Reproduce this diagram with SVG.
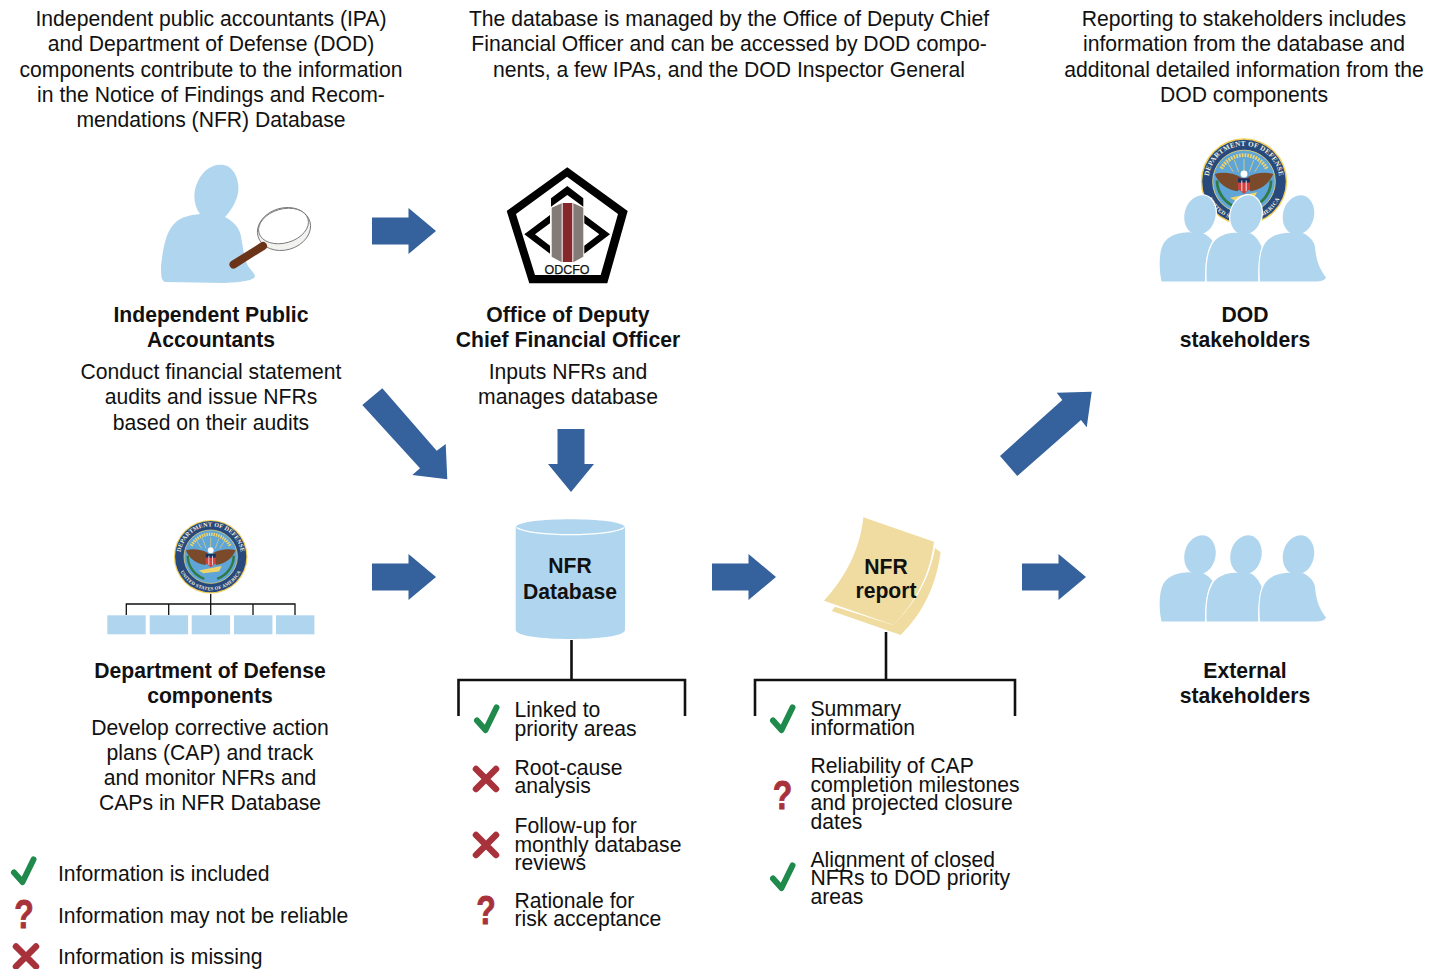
<svg xmlns="http://www.w3.org/2000/svg" width="1440" height="969" viewBox="0 0 1440 969">
<style>
text{font-family:"Liberation Sans",Arial,sans-serif;font-size:21.15px;fill:#111}
.c{text-anchor:middle}
.b{font-weight:700}
.blue{fill:#b0d6ef}
.arrow{fill:#35619d}
.line{fill:none;stroke:#111;stroke-width:2.6}
.chk{fill:none;stroke:#1f8a4c;stroke-width:6;stroke-linecap:round;stroke-linejoin:round}
.x{fill:none;stroke:#a8323c;stroke-width:6.5;stroke-linecap:round}
.q{font-size:41px;font-weight:700;fill:#a8323c;text-anchor:middle;stroke:#a8323c;stroke-width:.9}
.paper{fill:#f0dca0}
.st{font:700 6.6px "Liberation Serif",serif;fill:#f4f0dc;letter-spacing:.25px}
.halo{stroke:#fff;stroke-width:2.4}
</style>
<defs>
<g id="right"><path class="arrow" d="M0 -13.5H36.5V-23L64 0L36.5 23V13.5H0Z"/></g>
<polyline id="chk" class="chk" points="-9.5,-1 -1,8.5 10,-14"/>
<path id="xx" class="x" d="M-10 -10L10 10M10 -10L-10 10"/>
<path id="arcT" d="M-33 0A33 33 0 0 1 33 0"/>
<path id="arcB" d="M-36.500 0A36.500 36.500 0 0 0 36.500 0"/>
<g id="seal">
<circle r="40" fill="#f1cf5a"/>
<circle r="38.700" fill="#28497c"/>
<circle r="29" fill="#5fa5d8" stroke="#e9d67a" stroke-width=".8"/>
<text class="st c"><textPath href="#arcT" startOffset="50%">DEPARTMENT OF DEFENSE</textPath></text>
<text class="st c" style="font-size:5.2px"><textPath href="#arcB" startOffset="50%">UNITED STATES OF AMERICA</textPath></text>
<path d="M-21 -12A24 24 0 0 1 21 -12" fill="none" stroke="#f0d468" stroke-width="3.500" stroke-dasharray="1.600 1"/>
<path d="M0 -9V-21M-5 -9L-9 -20M5 -9L9 -20M-10 -9L-15 -17M10 -9L15 -17" stroke="#f0d468" stroke-width=".7" fill="none"/>
<path d="M-3 -4C-10 -8 -20 -9 -27 -7C-24 1 -16 8 -6 9L-3 5ZM3 -4C10 -8 20 -9 27 -7C24 1 16 8 6 9L3 5Z" fill="#7a4a2a"/>
<circle cy="-7" r="3.200" fill="#fff"/>
<path d="M-5.500 -3H5.500V7L0 11.500L-5.500 7Z" fill="#d04040"/>
<path d="M-5.500 -3H5.500V1H-5.500Z" fill="#16325f"/>
<path d="M-2 -1V9M2 -1V9" stroke="#fff" stroke-width=".8"/>
<path d="M-13 15L12 10L9 16L-8 18Z" fill="#f0d468"/>
<path d="M-25 -1C-25 10 -18 20 -7 24M25 -1C25 10 18 20 7 24" fill="none" stroke="#2f7a45" stroke-width="2.600"/>
</g>
<g id="p1" class="blue">
<ellipse cx="1200" cy="215" rx="15.500" ry="20" transform="rotate(14 1200 215)"/>
<path d="M1161.500 281.500C1159 270 1159 255 1162 247C1165 238 1174 233 1188 232.300L1203 233.300C1207 235 1210 238 1212.500 240.700C1207 250 1205 262 1205 281.500Z"/>
</g>
<g id="p2" class="blue">
<ellipse cx="1246" cy="215" rx="15.500" ry="20" transform="rotate(14 1246 215)"/>
<path d="M1206.700 281.500C1206 266 1207 253 1213 243C1218 236 1226 233 1235 232.700L1250 233.300C1255 235 1259 241 1261.700 246.700C1259 256 1258 268 1258.300 281.500Z"/>
</g>
<g id="p3" class="blue">
<ellipse cx="1298.500" cy="215" rx="15.500" ry="20" transform="rotate(14 1298.500 215)"/>
<path d="M1260 281.500C1259 268 1259 253 1265 243.300C1270 236 1279 233 1288.300 232.700L1303.300 233.300C1309 236 1314 241 1315 246.700C1316 258 1318 267 1326 277.500C1325 280.500 1320 281.500 1316 281.500Z"/>
</g>
<g id="people">
<use href="#p1" class="halo"/><use href="#p1"/>
<use href="#p2" class="halo"/><use href="#p2"/>
<use href="#p3" class="halo"/><use href="#p3"/>
</g>
</defs>

<g id="caption-left">
<text class="c" x="211" y="26">Independent public accountants (IPA)</text>
<text class="c" x="211" y="51">and Department of Defense (DOD)</text>
<text class="c" x="211" y="76.500">components contribute to the information</text>
<text class="c" x="211" y="102">in the Notice of Findings and Recom-</text>
<text class="c" x="211" y="127">mendations (NFR) Database</text>
</g>
<g id="caption-middle">
<text class="c" x="729" y="26">The database is managed by the Office of Deputy Chief</text>
<text class="c" x="729" y="51">Financial Officer and can be accessed by DOD compo-</text>
<text class="c" x="729" y="76.500">nents, a few IPAs, and the DOD Inspector General</text>
</g>
<g id="caption-right">
<text class="c" x="1244" y="26">Reporting to stakeholders includes</text>
<text class="c" x="1244" y="51">information from the database and</text>
<text class="c" x="1244" y="76.500">additonal detailed information from the</text>
<text class="c" x="1244" y="102">DOD components</text>
</g>

<g id="connectors">
<use href="#right" transform="translate(372 231)"/>
<use href="#right" transform="translate(372 577)"/>
<use href="#right" transform="translate(712 577)"/>
<use href="#right" transform="translate(1022 577)"/>
<path class="arrow" d="M557.500 429H584.500V464H594L571 492L548 464H557.500Z"/>
<path class="arrow" d="M362.300 405L382.300 388.300L436.700 450.700L445.700 444L447.300 479.300L412.300 475L420 468.300Z"/>
<path class="arrow" d="M1000 456L1017.300 476L1081 420L1086.700 427.300L1091.700 391.700L1056.700 392.700L1062.300 400Z"/>
<path class="line" d="M571.500 640V680M458.500 716V680H685V716"/>
<path class="line" d="M886 632V680M755 716V680H1015V716"/>
</g>

<g id="node-ipa">
<path class="blue" d="M165 282C161 281 161 274 161 266C163 248 166 232 174 224C181 216 192 215 200 214C194 206 193 195 196 186C201 171 212 163 224 165C235 167 240 182 238 193C236 203 230 212 225 217C233 221 239 227 241 236C243 248 244 258 248 266C251 270 255 274 255 276C254 281 240 282 225 283Z"/>
<ellipse cx="284" cy="229" rx="27" ry="21" transform="rotate(-16 284 229)" fill="#f2f3f1" stroke="#777" stroke-width=".9"/>
<ellipse cx="283.500" cy="226" rx="25.500" ry="17" transform="rotate(-16 283.500 226)" fill="#fff" stroke="#777" stroke-width=".9"/>
<line x1="233.500" y1="264.500" x2="263" y2="246" stroke="#6b3318" stroke-width="8" stroke-linecap="round"/>
<text class="c b" x="211" y="322">Independent Public</text>
<text class="c b" x="211" y="347">Accountants</text>
<text class="c" x="211" y="379">Conduct financial statement</text>
<text class="c" x="211" y="404">audits and issue NFRs</text>
<text class="c" x="211" y="429.500">based on their audits</text>
</g>

<g id="node-odcfo">
<path fill-rule="evenodd" d="M567.300 167.300L627.700 211L607.300 283.300H529.300L506.700 211ZM567 176.700L516 214L535 275H600.700L618 214Z"/>
<path d="M551 198.300L567.300 186L583.300 198.300V206.700L567.300 195L551 206.700ZM524.300 234.300L550 215V223.300L535 234.300L550 245.700V253.700ZM610 234.300L584.300 215V223.300L599.300 234.300L584.300 245.700V253.700Z"/>
<path fill="#857b76" d="M551.700 207.700L561.700 203.300V262.300L551.700 256.700ZM573.300 203.300L583.300 207.700V256.700L573.300 262.300Z"/>
<rect x="562.700" y="203" width="9.600" height="59" fill="#85282c"/>
<text class="c" x="567" y="274" style="font-size:12.500px;fill:#111;stroke:#111;stroke-width:.25">ODCFO</text>
<text class="c b" x="568" y="322">Office of Deputy</text>
<text class="c b" x="568" y="347">Chief Financial Officer</text>
<text class="c" x="568" y="379">Inputs NFRs and</text>
<text class="c" x="568" y="404">manages database</text>
</g>

<g id="node-dod-stakeholders">
<use href="#seal" transform="translate(1244 181.500) scale(1.08)"/>
<use href="#people"/>
<text class="c b" x="1245" y="322">DOD</text>
<text class="c b" x="1245" y="347">stakeholders</text>
</g>

<g id="node-dod-components">
<use href="#seal" transform="translate(210.700 556.700) scale(.92)"/>
<path d="M210.700 594V604M126.300 615V604H295V615M168.700 604V615M210.700 604V615M253 604V615" fill="none" stroke="#111" stroke-width="1.300"/>
<rect class="blue" x="107.300" y="615.300" width="38.400" height="19"/>
<rect class="blue" x="149.700" y="615.300" width="38.400" height="19"/>
<rect class="blue" x="191.700" y="615.300" width="38.400" height="19"/>
<rect class="blue" x="234" y="615.300" width="38.400" height="19"/>
<rect class="blue" x="276" y="615.300" width="38.400" height="19"/>
<text class="c b" x="210" y="678">Department of Defense</text>
<text class="c b" x="210" y="703">components</text>
<text class="c" x="210" y="735">Develop corrective action</text>
<text class="c" x="210" y="760">plans (CAP) and track</text>
<text class="c" x="210" y="785">and monitor NFRs and</text>
<text class="c" x="210" y="810">CAPs in NFR Database</text>
</g>

<g id="node-database">
<path class="blue" d="M515.700 527.500C515.700 516.500 625 516.500 625 527.500V630C625 642 515.700 642 515.700 630Z"/>
<path d="M516.500 527.500C530 537 611 537 624.500 527.500" fill="none" stroke="#fff" stroke-width="1.300"/>
<text class="c b" x="570" y="573">NFR</text>
<text class="c b" x="570" y="599">Database</text>
</g>

<g id="node-report">
<path class="paper" d="M935 548L940.700 552.300C936 585 924 612 900.700 635L831.700 611L835 606.700L893 625C915 604 930 578 935 548Z"/>
<path class="paper" d="M863.300 517.300L934 541.700C930 575 915 603 893.300 625L824 600.700C845 578 860 550 863.300 517.300Z"/>
<text class="c b" x="886" y="574">NFR</text>
<text class="c b" x="886" y="598">report</text>
</g>

<g id="node-external-stakeholders">
<use href="#people" transform="translate(0 340)"/>
<text class="c b" x="1245" y="678">External</text>
<text class="c b" x="1245" y="703">stakeholders</text>
</g>

<g id="list-database">
<use href="#chk" transform="translate(486.500 721.500)"/>
<text x="514.500" y="717">Linked to</text>
<text x="514.500" y="736">priority areas</text>
<use href="#xx" transform="translate(486 779)"/>
<text x="514.500" y="775">Root-cause</text>
<text x="514.500" y="793">analysis</text>
<use href="#xx" transform="translate(486 845)"/>
<text x="514.500" y="833">Follow-up for</text>
<text x="514.500" y="852">monthly database</text>
<text x="514.500" y="870">reviews</text>
<text class="q" transform="translate(486 924) scale(.78 1)">?</text>
<text x="514.500" y="908">Rationale for</text>
<text x="514.500" y="926">risk acceptance</text>
</g>

<g id="list-report">
<use href="#chk" transform="translate(782.500 721.500)"/>
<text x="810.500" y="716">Summary</text>
<text x="810.500" y="735">information</text>
<text class="q" transform="translate(782.500 808.500) scale(.78 1)">?</text>
<text x="810.500" y="773">Reliability of CAP</text>
<text x="810.500" y="792">completion milestones</text>
<text x="810.500" y="810">and projected closure</text>
<text x="810.500" y="829">dates</text>
<use href="#chk" transform="translate(782.500 879.500)"/>
<text x="810.500" y="867">Alignment of closed</text>
<text x="810.500" y="885">NFRs to DOD priority</text>
<text x="810.500" y="904">areas</text>
</g>

<g id="legend">
<use href="#chk" transform="translate(23.500 873.500)"/>
<text x="58" y="881">Information is included</text>
<text class="q" transform="translate(24 928) scale(.78 1)">?</text>
<text x="58" y="923">Information may not be reliable</text>
<use href="#xx" transform="translate(26 956.500)"/>
<text x="58" y="964">Information is missing</text>
</g>
</svg>
